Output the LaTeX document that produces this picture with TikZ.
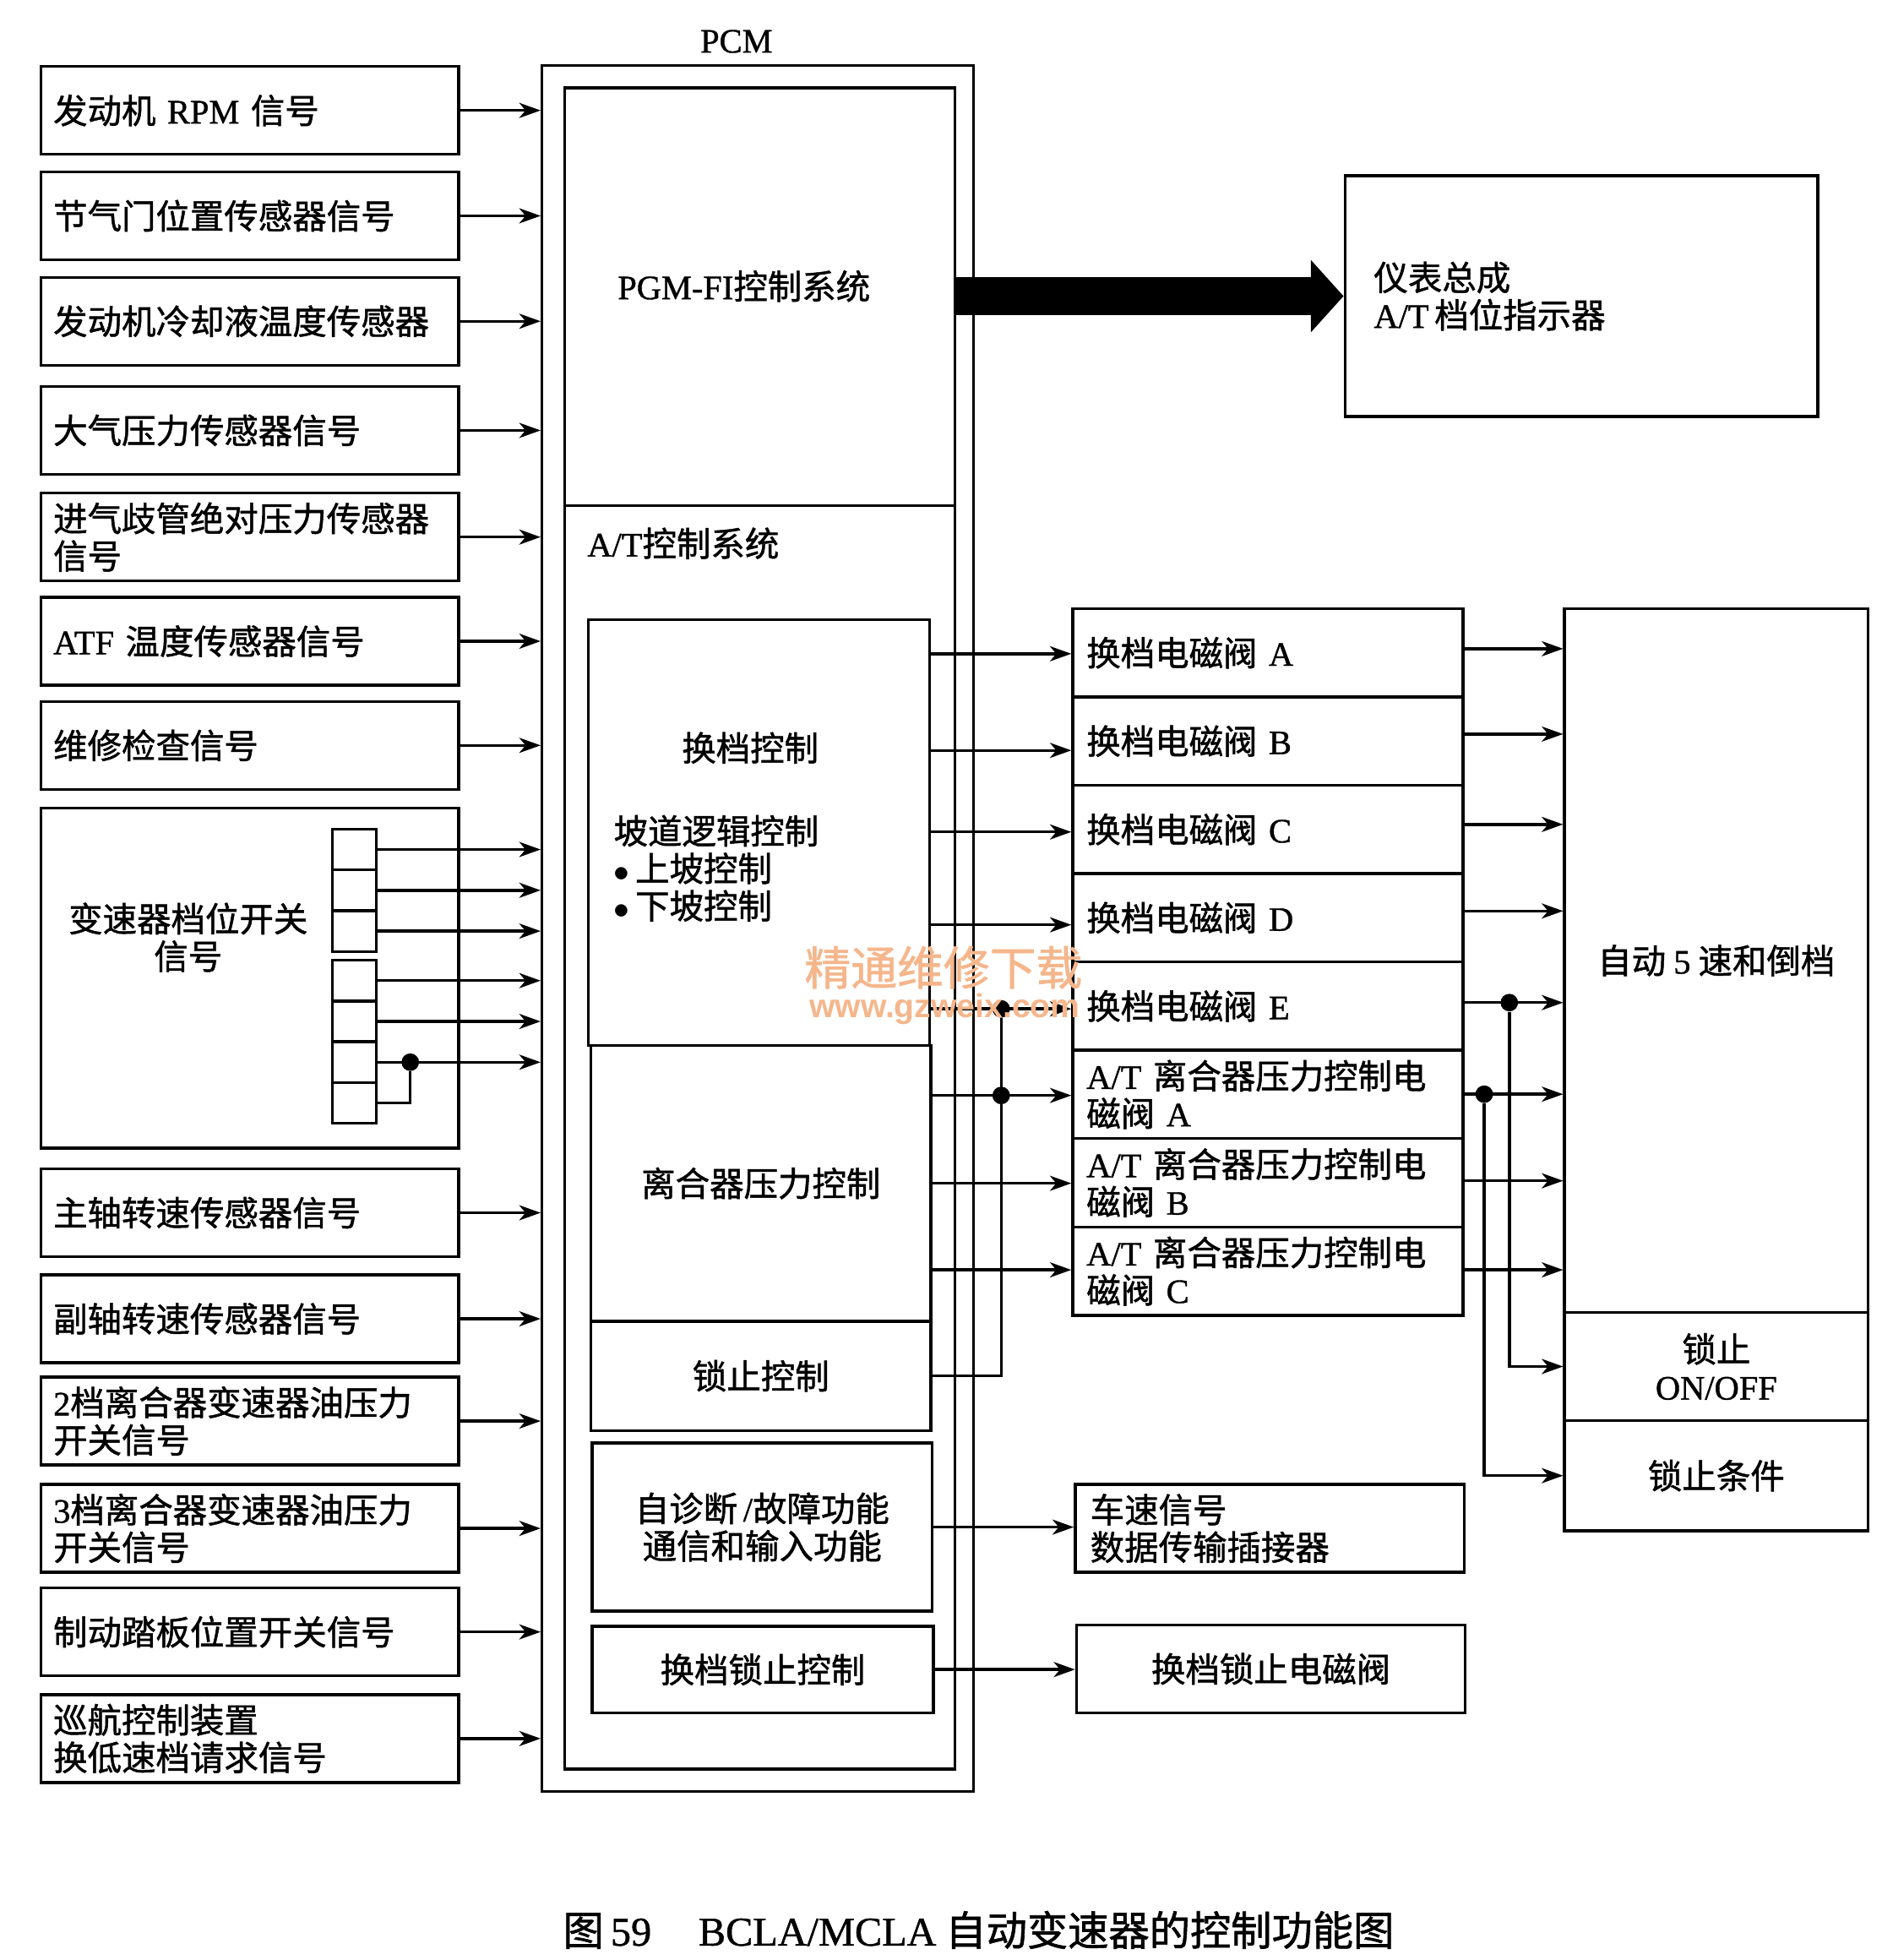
\documentclass[tikz,border=0pt]{standalone}
\usepackage{fontspec}
\setmainfont{Liberation Serif}[FakeBold=1]
\newfontfamily\cjk{Noto Sans CJK SC}[FakeBold=1.2]
\newfontfamily\wmsans{Liberation Sans}
\usetikzlibrary{arrows.meta}
\usetikzlibrary{positioning}
\definecolor{wmorange}{RGB}{245,182,140}
\newcommand{\la}[1]{{\rmfamily #1}}

\begin{document}
\begin{tikzpicture}[x=0.02cm,y=-0.02cm,
  font=\cjk\fontsize{15.5}{17}\selectfont,
  box/.style={draw,line width=1.3pt,inner sep=0pt},
  inp/.style={box,minimum width=6.66cm,minimum height=1.4cm,text width=6.26cm,align=left},
  cell/.style={box,minimum width=0.7cm,minimum height=0.65cm},
  sol/.style={box,minimum width=6.22cm,minimum height=1.408cm,text width=5.78cm,align=left},
  arr/.style={line width=1.3pt,-{Stealth[length=0.34cm,width=0.24cm,inset=0.1cm]}},
  wire/.style={line width=1.3pt},
  dot/.style={circle,fill,inner sep=0pt,minimum size=0.28cm}]
\useasboundingbox (0,0) rectangle (1500,1562);

\node[box,minimum width=6.88cm,minimum height=27.52cm] (pcm) at (604,740) {};
\node (pcmlbl) at (587,33) {\la{PCM}};
\node[box,minimum width=6.22cm,minimum height=6.66cm] (pgmfi) at (605.5,236.5) {};
\node (pgmtxt) at (593,228) {\la{PGM-FI}控制系统};
\node[box,minimum width=6.22cm,minimum height=20.14cm] (atsys) at (605.5,906.5) {};
\node[anchor=west] (attxt) at (462,433) {\la{A/T}控制系统};
\node[box,minimum width=5.44cm,minimum height=6.78cm] (shift) at (605,663.5) {};
\node (shifttxt) at (598,596) {换档控制};
\node[anchor=west,align=left] (slopetxt) at (483,692) {坡道逻辑控制\\$\bullet$\,上坡控制\\$\bullet$\,下坡控制};
\node[box,minimum width=5.42cm,minimum height=4.4cm] (clutch) at (606.5,943) {离合器压力控制};
\node[box,minimum width=5.42cm,minimum height=1.74cm] (lockctl) at (606.5,1096.5) {锁止控制};
\node[box,minimum width=5.42cm,minimum height=2.68cm,align=center] (diag) at (607.5,1217) {自诊断\,\la{/}故障功能\\通信和输入功能};
\node[box,minimum width=5.44cm,minimum height=1.38cm] (shiftlock) at (608,1330.5) {换档锁止控制};

\node[box,minimum width=7.54cm,minimum height=3.84cm,text width=6.62cm,align=left] (ipc) at (1260.5,236) {仪表总成\\\la{A/T}\,档位指示器};
\draw[line width=0.6cm,-{Triangle[length=0.52cm,width=1.12cm]}] (pgmfi.east |- ipc.west) -- (ipc.west);

\foreach \n/\t/\y in {rpm/{发动机 \la{RPM} 信号}/88, thr/{节气门位置传感器信号}/172,
  ect/{发动机冷却液温度传感器}/256, baro/{大气压力传感器信号}/343,
  map/{进气歧管绝对压力传感器\\信号}/428, atf/{\la{ATF} 温度传感器信号}/511,
  svc/{维修检查信号}/594, mss/{主轴转速传感器信号}/966.5, css/{副轴转速传感器信号}/1051,
  ps2/{\la{2}档离合器变速器油压力\\开关信号}/1132.5, ps3/{\la{3}档离合器变速器油压力\\开关信号}/1218,
  brk/{制动踏板位置开关信号}/1300.5, cru/{巡航控制装置\\换低速档请求信号}/1385.5}
{\node[inp] (\n) at (199,\y) {\t};
 \draw[arr] (\n.east) -- (\n.east -| pcm.west);}

\node[box,minimum width=6.66cm,minimum height=5.42cm] (range) at (199,779.5) {};
\node[align=center] (rangetxt) at (150,747) {变速器档位开关\\信号};
\foreach \i/\y in {1/677,2/709.5,3/742,4/781.5,5/814,6/846.5,7/879}
\node[cell] (c\i) at (282.5,\y) {};
\foreach \i in {1,...,6}
\draw[arr] (c\i.east) -- (c\i.east -| pcm.west);
\node[dot] (swdot) at (327,846.5) {};
\draw[wire] (c7.east) -| (swdot);

\foreach \n/\t [count=\i] in {sA/{换档电磁阀 \la{A}}, sB/{换档电磁阀 \la{B}}, sC/{换档电磁阀 \la{C}},
  sD/{换档电磁阀 \la{D}}, sE/{换档电磁阀 \la{E}}, cA/{\la{A/T} 离合器压力控制电\\磁阀 \la{A}},
  cB/{\la{A/T} 离合器压力控制电\\磁阀 \la{B}}, cC/{\la{A/T} 离合器压力控制电\\磁阀 \la{C}}}
\node[sol] (\n) at (1010.5,{485+70.4*(\i-0.5)}) {\t};

\node[box,minimum width=4.84cm,minimum height=11.22cm] (auto5) at (1368,765.5) {自动 \la{5} 速和倒档};
\node[box,minimum width=4.84cm,minimum height=1.72cm,align=center] (lockon) at (1368,1089) {锁止\\\la{ON/OFF}};
\node[box,minimum width=4.84cm,minimum height=1.76cm] (lockcond) at (1368,1176) {锁止条件};
\node[box,minimum width=6.2cm,minimum height=1.4cm,text width=5.72cm,align=left] (vss) at (1012,1218) {车速信号\\数据传输插接器};
\node[box,minimum width=6.2cm,minimum height=1.4cm] (sls) at (1013,1330) {换档锁止电磁阀};

\foreach \s/\y in {sA/521,sB/598,sC/663,sD/737,sE/804}
\draw[arr] (shift.east |- 0,\y) -- (\s.west |- 0,\y);
\foreach \s/\y in {cA/873,cB/943,cC/1012}
\draw[arr] (clutch.east |- 0,\y) -- (\s.west |- 0,\y);
\node[dot] (ldotE) at (798,804) {};
\node[dot] (ldotA) at (798,873) {};
\draw[wire] (lockctl.east) -| (ldotE);

\foreach \s/\y in {sA/517,sB/585,sC/657,sD/726,sE/799,cA/872,cB/941,cC/1012}
\draw[arr] (\s.east |- 0,\y) -- (auto5.west |- 0,\y);
\node[dot] (rdotE) at (1203,799) {};
\node[dot] (rdotA) at (1183,872) {};
\draw[arr] (rdotE) |- (lockon.west);
\draw[arr] (rdotA) |- (lockcond.west);

\draw[arr] (diag.east) -- (diag.east -| vss.west);
\draw[arr] (shiftlock.east) -- (shiftlock.east -| sls.west);

\node[text=wmorange,inner sep=0pt,font=\cjk\fontsize{21}{22}\selectfont] (wmcn) at (752,771) {精通维修下载};
\node[text=wmorange,inner sep=0pt,font=\wmsans\bfseries\fontsize{15}{16}\selectfont] (wmurl) at (753,804) {www.gzweix.com};

\node[font=\cjk\fontsize{18.5}{20}\selectfont] (caption) at (780,1538) {图\,\la{59}\hspace{0.75cm}\la{BCLA/MCLA} 自动变速器的控制功能图};
\end{tikzpicture}
\end{document}
